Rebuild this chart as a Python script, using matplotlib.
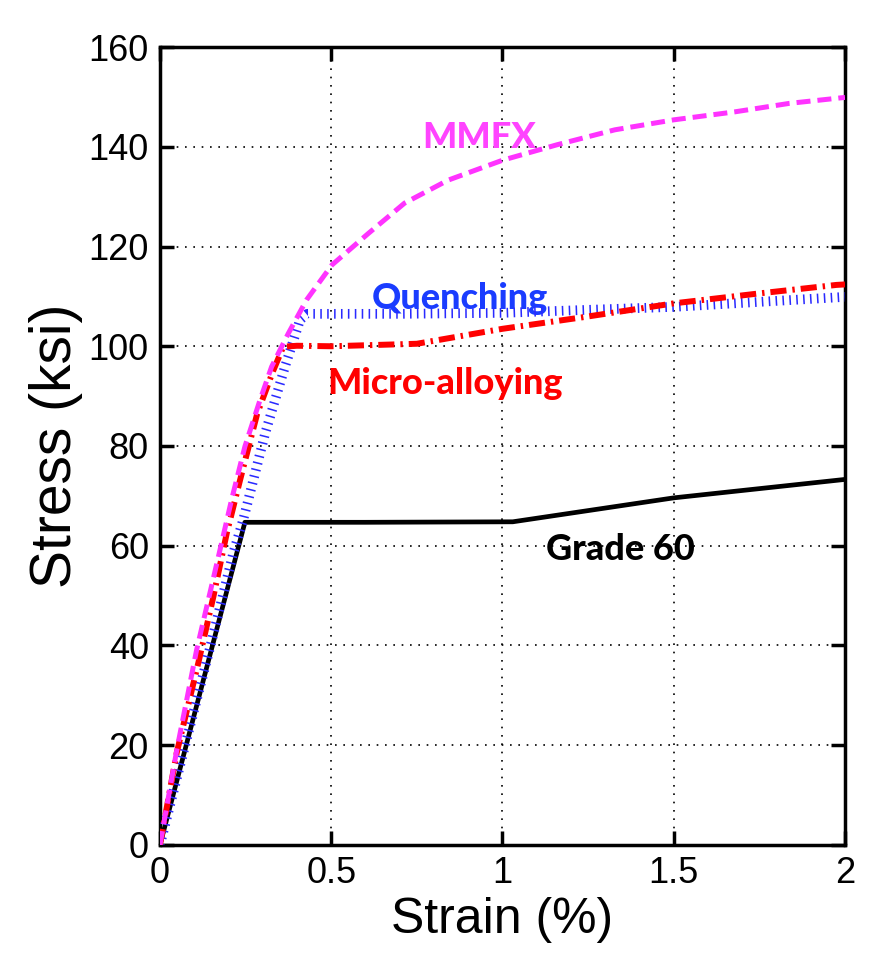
import numpy as np
import matplotlib.pyplot as plt

# strain (%) / stress (ksi)
grade60_x = [0, 0.248, 0.6, 1.03, 1.5, 2.0]
grade60_y = [0, 64.7, 64.7, 64.8, 69.6, 73.3]

quench_x = [0, 0.068, 0.146, 0.214, 0.243, 0.258, 0.307, 0.365, 0.409, 0.43,
            0.7, 1.0, 1.25, 1.5, 1.75, 2.0]
quench_y = [0, 18.5, 39.5, 58.5, 65.2, 69.2, 82.5, 95.9, 105.3, 106.5,
            106.5, 106.7, 107.3, 107.9, 108.9, 109.9]

micro_x = [0, 0.049, 0.112, 0.156, 0.195, 0.234, 0.284, 0.33, 0.36, 0.4,
           0.5, 0.75, 1.0, 1.233, 1.5, 1.75, 1.975, 2.0]
micro_y = [0, 18.5, 36.5, 49.8, 62.5, 73.2, 86.5, 95.0, 99.9, 100.1,
           100.0, 100.5, 103.5, 105.8, 108.6, 110.6, 112.3, 112.4]

mmfx_x = [0, 0.049, 0.107, 0.173, 0.209, 0.248, 0.292, 0.326, 0.375, 0.428,
          0.502, 0.608, 0.714, 0.841, 1.0, 1.159, 1.328, 1.5, 1.678, 1.837, 2.0]
mmfx_y = [0, 19.0, 39.1, 58.5, 69.2, 79.9, 89.2, 95.9, 102.6, 109.3,
          116.3, 122.6, 128.7, 133.3, 137.3, 140.4, 143.4, 145.4, 147.0, 148.7, 149.9]

plt.rcParams['font.family'] = ['Liberation Sans', 'DejaVu Sans']

fig = plt.figure(figsize=(8.76, 9.8), dpi=100)
ax = fig.add_axes([0.1826, 0.1378, 0.782, 0.8142])

ax.plot(grade60_x, grade60_y, color='black', lw=3.4, solid_capstyle='butt', zorder=3)
ax.plot(quench_x, quench_y, color='#2a2aff', lw=7, linestyle=(0, (0.16, 0.55)),
        dash_capstyle='butt', zorder=4)
ax.plot(micro_x, micro_y, color='#ff0000', lw=4.3, linestyle=(0, (2.7, 1.0, 0.4, 1.0)),
        dash_capstyle='butt', zorder=5)
ax.plot(mmfx_x, mmfx_y, color='#ff33ff', lw=3.6, linestyle=(0, (2.8, 1.4)),
        dash_capstyle='butt', zorder=6)

lab = dict(fontfamily=['Lato', 'DejaVu Sans'], fontweight='black', fontsize=26,
           ha='center', va='center')
ax.text(0.931, 141.9, 'MMFX', color='#ff44ff', **lab)
ax.text(0.876, 109.5, 'Quenching', color='#1a3cff', **lab)
ax.text(0.832, 92.6, 'Micro-alloying', color='#ff0000', **lab)
ax.text(1.343, 59.3, 'Grade 60', color='black', **lab)

ax.set_xlim(0, 2)
ax.set_ylim(0, 160)
ax.set_xticks([0, 0.5, 1, 1.5, 2])
ax.set_xticklabels(['0', '0.5', '1', '1.5', '2'])
ax.set_yticks(np.arange(0, 161, 20))
ax.grid(True, color='black', linestyle=(0, (1, 4)), lw=1.2)
ax.tick_params(direction='in', length=10, width=2.5, labelsize=26, pad=8,
               top=True, right=True)
for s in ax.spines.values():
    s.set_linewidth(2.5)
ax.set_xlabel('Strain (%)', fontsize=36, labelpad=4)
ax.set_ylabel('Stress (ksi)', fontsize=41, labelpad=4)

fig.savefig('out.png', dpi=100)
